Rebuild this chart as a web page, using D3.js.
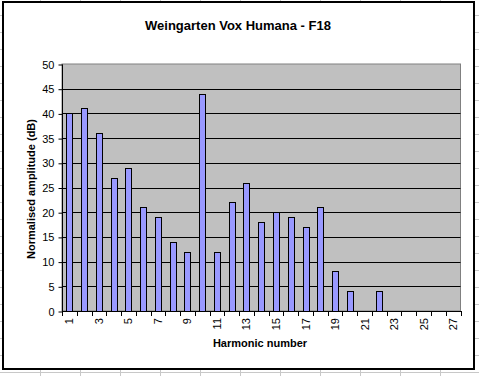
<!DOCTYPE html>
<html>
<head>
<meta charset="utf-8">
<script src="https://cdn.jsdelivr.net/npm/d3@7"></script>
<style>
  body { margin: 0; background: #fff; }
  svg { display: block; font-family: "Liberation Sans", Arial, sans-serif; }
</style>
</head>
<body>
<div id="chart"></div>
<script>
const harmonics = d3.range(1, 28)
const amplitudes = [40, 41, 36, 27, 29, 21, 19, 14, 12, 44, 12, 22, 26, 18, 20, 19, 17, 21, 8, 4, 0, 4, 0, 0, 0, 0, 0]
const yTicks = [0, 5, 10, 15, 20, 25, 30, 35, 40, 45, 50]
const title = 'Weingarten Vox Humana - F18'
const xTitle = 'Harmonic number'
const yTitle = 'Normalised amplitude (dB)'

const W = 479, H = 376
const pLeft = 62, pTop = 64, pRight = 460.5, pBottom = 311

const svg = d3.select('#chart').append('svg')
  .attr('width', W).attr('height', H)

// spreadsheet cells behind the chart
const sheet = svg.append('g').attr('stroke', '#c8c8c8').attr('stroke-width', 1)
d3.range(40, W, 40).forEach(x => sheet.append('line')
  .attr('x1', x + 0.5).attr('x2', x + 0.5).attr('y1', 0).attr('y2', H))
d3.range(16, H, 17).forEach(y => sheet.append('line')
  .attr('x1', 0).attr('x2', W).attr('y1', y - 0.5).attr('y2', y - 0.5))

// chart area
svg.append('rect')
  .attr('x', 3).attr('y', 2).attr('width', 471).attr('height', 367)
  .attr('fill', '#fff').attr('stroke', '#000').attr('stroke-width', 2)

const xCat = d3.scaleBand().domain(harmonics).range([pLeft, pRight])
const y = d3.scaleLinear().domain([0, 50]).range([pBottom, pTop])

svg.append('rect')
  .attr('x', pLeft).attr('y', pTop).attr('width', pRight - pLeft).attr('height', pBottom - pTop)
  .attr('fill', '#c0c0c0').attr('stroke', '#808080').attr('stroke-width', 1)

svg.append('g').selectAll('line').data(yTicks.slice(1, -1)).join('line')
  .attr('x1', pLeft).attr('x2', pRight)
  .attr('y1', d => Math.round(y(d)) + 0.5).attr('y2', d => Math.round(y(d)) + 0.5)
  .attr('stroke', '#000')

svg.append('g').selectAll('rect').data(harmonics.filter((h, i) => amplitudes[i] > 0)).join('rect')
  .attr('x', d => Math.round(xCat(d) + xCat.bandwidth() / 2 - 3) + 0.5)
  .attr('y', d => Math.round(y(amplitudes[d - 1])) + 0.5)
  .attr('width', 6)
  .attr('height', d => Math.round(pBottom) - Math.round(y(amplitudes[d - 1])))
  .attr('fill', '#9999ff').attr('stroke', '#000').attr('stroke-width', 1)

// y axis
const yAxis = d3.axisLeft(y).tickValues(yTicks).tickSize(4).tickPadding(4)
const ga = svg.append('g').attr('transform', `translate(${pLeft + 0.5},0.5)`).call(yAxis)
ga.select('.domain').attr('d', `M0,${pTop}V${pBottom}`)
ga.selectAll('text').attr('font-size', 11).attr('fill', '#000').attr('font-family', null)

// x axis: ticks between categories, labels on odd harmonics
const xa = svg.append('g')
xa.append('line').attr('x1', pLeft).attr('x2', pRight + 0.5)
  .attr('y1', pBottom + 0.5).attr('y2', pBottom + 0.5).attr('stroke', '#000')
xa.selectAll('line.t').data(harmonics.concat([28])).join('line').attr('class', 't')
  .attr('x1', d => Math.round(d === 28 ? pRight : xCat(d)) + 0.5)
  .attr('x2', d => Math.round(d === 28 ? pRight : xCat(d)) + 0.5)
  .attr('y1', pBottom).attr('y2', pBottom + 5).attr('stroke', '#000')
xa.selectAll('text').data(harmonics.filter(h => h % 2 === 1)).join('text')
  .attr('transform', d => `translate(${xCat(d) + xCat.bandwidth() / 2 + 4},318) rotate(-90)`)
  .attr('text-anchor', 'end').attr('font-size', 11).text(d => d)

svg.append('text').attr('x', 238).attr('y', 30).attr('text-anchor', 'middle')
  .attr('font-size', 13).attr('font-weight', 'bold').text(title)
svg.append('text').attr('x', 260).attr('y', 347).attr('text-anchor', 'middle')
  .attr('font-size', 11).attr('font-weight', 'bold').text(xTitle)
svg.append('text').attr('transform', 'translate(35,189) rotate(-90)').attr('text-anchor', 'middle')
  .attr('font-size', 11).attr('font-weight', 'bold').text(yTitle)
</script>
</body>
</html>
